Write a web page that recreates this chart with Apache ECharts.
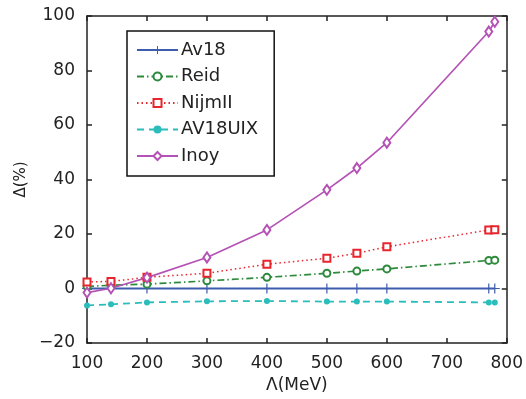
<!DOCTYPE html>
<html>
<head>
<meta charset="utf-8">
<script src="https://cdn.jsdelivr.net/npm/echarts@6/dist/echarts.min.js"></script>
<style>
  html, body { margin: 0; padding: 0; background: #fff; }
  #chart { width: 526px; height: 399px; }
</style>
</head>
<body>
<div id="chart"></div>
<script>
// Cutoff values Λ (MeV)
const lambdas = [100, 140, 200, 300, 400, 500, 550, 600, 770, 780];

// Relative deviation Δ (%) for each potential
const av18    = [0, 0, 0, 0, 0, 0, 0, 0, 0, 0];
const reid    = [0.7, 1.2, 1.6, 2.8, 4.1, 5.6, 6.4, 7.2, 10.3, 10.4];
const nijmII  = [2.4, 2.6, 4.1, 5.6, 8.9, 11.1, 12.9, 15.3, 21.5, 21.6];
const av18uix = [-6.2, -5.8, -5.1, -4.7, -4.6, -4.8, -4.8, -4.8, -5.1, -5.1];
const inoy    = [-1.5, 0.1, 4.0, 11.4, 21.5, 36.2, 44.2, 53.5, 94.3, 97.9];

const xTicks = [100, 200, 300, 400, 500, 600, 700, 800];
const yTicks = [-20, 0, 20, 40, 60, 80, 100];

const FONT = 'DejaVu Sans';
const plusPath = 'path://M4.4,0h1.2v4.4h4.4v1.2h-4.4v4.4h-1.2v-4.4h-4.4v-1.2h4.4z';

function pairs(ys) { return lambdas.map((x, i) => [x, ys[i]]); }

const axisCommon = {
  type: 'value',
  splitLine: { show: false },
  axisLine: { show: true, onZero: false, lineStyle: { color: '#222', width: 1.5 } },
  axisTick: { show: true, inside: true, length: 5, lineStyle: { color: '#222', width: 1.5 } },
};

const chart = echarts.init(document.getElementById('chart'), null, { renderer: 'canvas' });

chart.setOption({
  animation: false,
  backgroundColor: '#fff',
  grid: { left: 87, right: 18, top: 16, bottom: 56 },
  xAxis: [
    Object.assign({}, axisCommon, {
      position: 'bottom',
      min: xTicks[0], max: xTicks[xTicks.length - 1], interval: 100,
      name: 'Λ(MeV)', nameLocation: 'middle', nameGap: 30,
      nameTextStyle: { fontFamily: FONT, fontSize: 17, color: '#222' },
      axisLabel: { fontFamily: FONT, fontSize: 17, color: '#222', margin: 12 },
    }),
    Object.assign({}, axisCommon, {
      position: 'top',
      min: xTicks[0], max: xTicks[xTicks.length - 1], interval: 100,
      axisLabel: { show: false },
    }),
  ],
  yAxis: [
    Object.assign({}, axisCommon, {
      position: 'left',
      min: yTicks[0], max: yTicks[yTicks.length - 1], interval: 20,
      name: 'Δ(%)', nameLocation: 'middle', nameGap: 54,
      nameTextStyle: { fontFamily: FONT, fontSize: 15, color: '#222' },
      axisLabel: {
        fontFamily: FONT, fontSize: 17, color: '#222', margin: 12,
        formatter: v => String(v).replace('-', '\u2212'),
      },
    }),
    Object.assign({}, axisCommon, {
      position: 'right',
      min: yTicks[0], max: yTicks[yTicks.length - 1], interval: 20,
      axisLabel: { show: false },
    }),
  ],
  legend: {
    orient: 'vertical',
    left: 127, top: 31,
    padding: [10, 16, 11, 9],
    itemWidth: 41, itemHeight: 10, itemGap: 8.5,
    borderColor: '#111', borderWidth: 1.5,
    backgroundColor: '#fff',
    textStyle: { fontFamily: FONT, fontSize: 18, color: '#222', padding: [0, 0, 0, -2] },
    data: ['Av18', 'Reid', 'NijmII', 'AV18UIX', 'Inoy'],
  },
  series: [
    {
      name: 'Av18', type: 'line', data: pairs(av18),
      symbol: plusPath, symbolSize: 10,
      lineStyle: { color: '#3d5cae', width: 1.8, type: 'solid' },
      itemStyle: { color: '#3d5cae' },
    },
    {
      name: 'Reid', type: 'line', data: pairs(reid),
      symbol: 'emptyCircle', symbolSize: 7,
      lineStyle: { color: '#2d8a3c', width: 1.7, type: [7, 3, 1.5, 3] },
      itemStyle: { color: '#2d8a3c', borderWidth: 2 },
    },
    {
      name: 'NijmII', type: 'line', data: pairs(nijmII),
      symbol: 'emptyRect', symbolSize: 7,
      lineStyle: { color: '#e8242c', width: 1.5, type: [1.5, 3] },
      itemStyle: { color: '#e8242c', borderWidth: 2 },
    },
    {
      name: 'AV18UIX', type: 'line', data: pairs(av18uix),
      symbol: 'circle', symbolSize: 6,
      lineStyle: { color: '#2bbcbc', width: 1.8, type: [7, 5] },
      itemStyle: { color: '#2bbcbc' },
    },
    {
      name: 'Inoy', type: 'line', data: pairs(inoy),
      symbol: 'emptyDiamond', symbolSize: [7, 10],
      lineStyle: { color: '#b552b5', width: 1.7, type: 'solid' },
      itemStyle: { color: '#b552b5', borderWidth: 2 },
    },
  ],
});
</script>
</body>
</html>
